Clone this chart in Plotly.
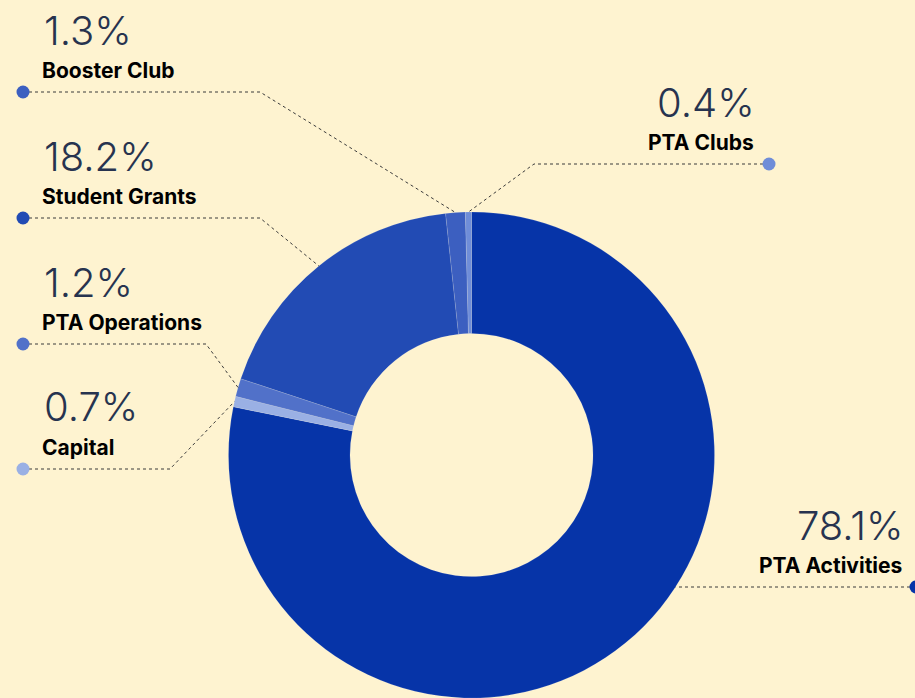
import math
import plotly.graph_objects as go

# ---- data ----
labels = ["PTA Activities", "Capital", "PTA Operations", "Student Grants", "Booster Club", "PTA Clubs"]
values = [78.1, 0.7, 1.2, 18.2, 1.3, 0.4]
pct_text = ["78.1%", "0.7%", "1.2%", "18.2%", "1.3%", "0.4%"]
colors = ["#0634A8", "#9AB0E4", "#5171C9", "#224BB4", "#3C5FC0", "#6F8DD8"]

# ---- layout constants (pixels) ----
W, H = 915, 698
BG = "#FEF3D0"
pie_left, pie_right, pie_top = 228, 715, 212
R = (pie_right - pie_left) / 2 // 1
cx = (pie_left + pie_right) / 2
cy = pie_top + R

# label placement per slice: side, dot x, dot y, elbow x, text right edge
place = {
    "PTA Activities": ("right", 916, 587, None, 904),
    "Capital": ("left", 23, 469, 170, 40),
    "PTA Operations": ("left", 23, 344, 206, 40),
    "Student Grants": ("left", 23, 218, 260, 40),
    "Booster Club": ("left", 23, 92, 260, 40),
    "PTA Clubs": ("right", 769, 164, 534, 756),
}


def px(x):
    return x / W


def py(y):
    return 1 - y / H


fig = go.Figure()
fig.add_trace(go.Pie(
    labels=labels, values=values, sort=False, direction="clockwise", rotation=0,
    hole=0.5, textinfo="none", hoverinfo="label+percent",
    marker=dict(colors=colors, line=dict(color="rgba(255,255,255,0.25)", width=0.5)),
    domain=dict(x=[pie_left / W, pie_right / W], y=[0, py(pie_top)]),
    showlegend=False,
))

shapes = []
annotations = []
total = sum(values)
cum = 0.0
for lab, val, pt, col in zip(labels, values, pct_text, colors):
    mid = (cum + val / 2) / total * 2 * math.pi
    cum += val
    side, dx, dy, ex, tx = place[lab]
    ax = cx + R * math.sin(mid)
    ay = cy - R * math.cos(mid)
    if ex is None:
        ix = cx + math.sqrt(max(R * R - (dy - cy) ** 2, 0))
        path = f"M {px(dx)},{py(dy)} L {px(ix)},{py(dy)}"
    else:
        path = f"M {px(dx)},{py(dy)} L {px(ex)},{py(dy)} L {px(ax)},{py(ay)}"
    shapes.append(dict(type="path", xref="paper", yref="paper", path=path,
                       line=dict(color="#3b3b3b", width=1, dash="dot"), layer="above"))
    shapes.append(dict(type="circle", xref="paper", yref="paper",
                       xsizemode="pixel", ysizemode="pixel",
                       xanchor=px(dx), yanchor=py(dy), x0=-6.5, x1=6.5, y0=-6.5, y1=6.5,
                       fillcolor=col, line=dict(width=0), layer="above"))
    anchor = "left" if side == "left" else "right"
    annotations.append(dict(xref="paper", yref="paper", x=px(tx + (2 if side == "left" else 1)), y=py(dy - 62),
                            xanchor=anchor, yanchor="middle", showarrow=False, text=pt,
                            font=dict(family="Inter", size=40, color="#27334F", weight=300)))
    annotations.append(dict(xref="paper", yref="paper", x=px(tx), y=py(dy - 22),
                            xanchor=anchor, yanchor="middle", showarrow=False, text=lab,
                            font=dict(family="Inter", size=21, color="#000000", weight=700)))

fig.update_layout(
    width=W, height=H, margin=dict(l=0, r=0, t=0, b=0),
    paper_bgcolor=BG, plot_bgcolor=BG,
    shapes=shapes, annotations=annotations,
)

fig.write_html("out.html", config={"displayModeBar": False},
               post_script="document.body.style.margin='0';document.body.style.overflow='hidden';")
